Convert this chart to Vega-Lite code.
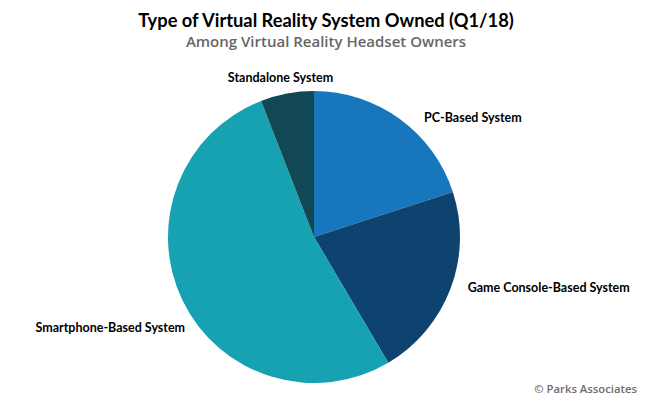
{
  "$schema": "https://vega.github.io/schema/vega-lite/v6.json",
  "autosize": {"type": "none"},
  "width": 628,
  "height": 326,
  "padding": {"top": 74, "left": 0, "right": 17, "bottom": 0},
  "background": "white",
  "title": {
    "text": "Type of Virtual Reality System Owned (Q1/18)",
    "subtitle": "Among Virtual Reality Headset Owners",
    "anchor": "middle",
    "dx": 12,
    "offset": 17,
    "font": "Lato",
    "fontSize": 18.3,
    "fontWeight": "bold",
    "color": "#000000",
    "subtitleFont": "Open Sans",
    "subtitleFontSize": 15,
    "subtitleFontWeight": 600,
    "subtitleColor": "#666666",
    "subtitlePadding": 3
  },
  "config": {"view": {"stroke": null}},
  "data": {
    "values": [
      {"system": "PC-Based System", "share": 20.0, "idx": 1},
      {"system": "Game Console-Based System", "share": 21.5, "idx": 2},
      {"system": "Smartphone-Based System", "share": 52.6, "idx": 3},
      {"system": "Standalone System", "share": 5.9, "idx": 4}
    ]
  },
  "encoding": {
    "theta": {"field": "share", "type": "quantitative", "stack": true},
    "order": {"field": "idx", "type": "ordinal"}
  },
  "layer": [
    {
      "mark": {"type": "arc", "outerRadius": 146},
      "encoding": {
        "color": {
          "field": "system",
          "type": "nominal",
          "legend": null,
          "scale": {
            "domain": ["PC-Based System", "Game Console-Based System", "Smartphone-Based System", "Standalone System"],
            "range": ["#1877bc", "#0d436e", "#16a2b1", "#124854"]
          }
        }
      }
    },
    {
      "mark": {"type": "text", "radius": 160, "align": "left", "baseline": "middle", "dx": 16, "dy": 10, "font": "Lato", "fontSize": 12.5, "fontWeight": "bold", "color": "#000000"},
      "encoding": {
        "text": {"condition": {"test": "datum.system === 'PC-Based System'", "field": "system"}, "value": ""}
      }
    },
    {
      "mark": {"type": "text", "radius": 160, "align": "left", "baseline": "middle", "dx": 4, "dy": -6, "font": "Lato", "fontSize": 12.5, "fontWeight": "bold", "color": "#000000"},
      "encoding": {
        "text": {"condition": {"test": "datum.system === 'Game Console-Based System'", "field": "system"}, "value": ""}
      }
    },
    {
      "mark": {"type": "text", "radius": 160, "align": "right", "baseline": "middle", "dx": 15, "dy": 21, "font": "Lato", "fontSize": 12.5, "fontWeight": "bold", "color": "#000000"},
      "encoding": {
        "text": {"condition": {"test": "datum.system === 'Smartphone-Based System'", "field": "system"}, "value": ""}
      }
    },
    {
      "mark": {"type": "text", "radius": 160, "align": "center", "baseline": "middle", "dx": -4, "dy": -2, "font": "Lato", "fontSize": 12.5, "fontWeight": "bold", "color": "#000000"},
      "encoding": {
        "text": {"condition": {"test": "datum.system === 'Standalone System'", "field": "system"}, "value": ""}
      }
    },
    {
      "data": {"values": [{"note": "© Parks Associates"}]},
      "mark": {"type": "text", "align": "right", "baseline": "middle", "font": "Open Sans", "fontSize": 11.3, "fontWeight": 600, "color": "#6d6d6d"},
      "encoding": {
        "theta": null,
        "order": null,
        "text": {"field": "note", "type": "nominal"},
        "x": {"value": {"expr": "width + 9"}},
        "y": {"value": {"expr": "height - 10"}}
      }
    }
  ]
}
